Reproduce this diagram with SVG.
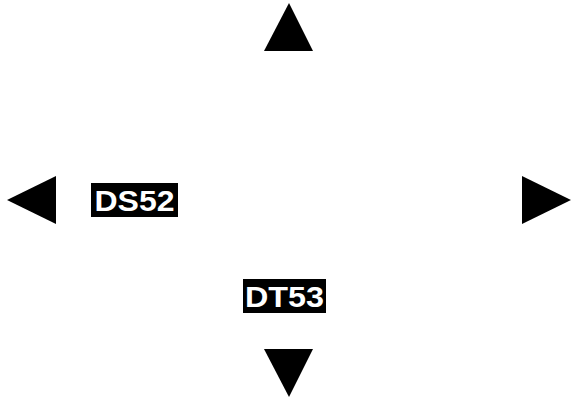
<svg xmlns="http://www.w3.org/2000/svg" width="573" height="399" viewBox="0 0 573 399">
<style>
.arrow{fill:#000}
.bg{fill:#000}
.lbl{font-family:"Liberation Sans",Arial,sans-serif;font-weight:bold;font-size:30px;fill:#fff;text-anchor:middle}
</style>
<rect width="573" height="399" fill="#fff"/>
<g id="connectors">
<polygon class="arrow" points="289,3 264,51 313,51"/>
<polygon class="arrow" points="7,200 56,176 56,224"/>
<polygon class="arrow" points="522,176 522,224 571,200"/>
<polygon class="arrow" points="264,349 313,349 289,397"/>
</g>
<g id="DS52">
<rect class="bg" x="91" y="183" width="87" height="34"/>
<text class="lbl" x="134.5" y="210.5" textLength="80" lengthAdjust="spacingAndGlyphs">DS52</text>
</g>
<g id="DT53">
<rect class="bg" x="243" y="279" width="83" height="34"/>
<text class="lbl" x="284.5" y="306.5" textLength="79" lengthAdjust="spacingAndGlyphs">DT53</text>
</g>
</svg>
